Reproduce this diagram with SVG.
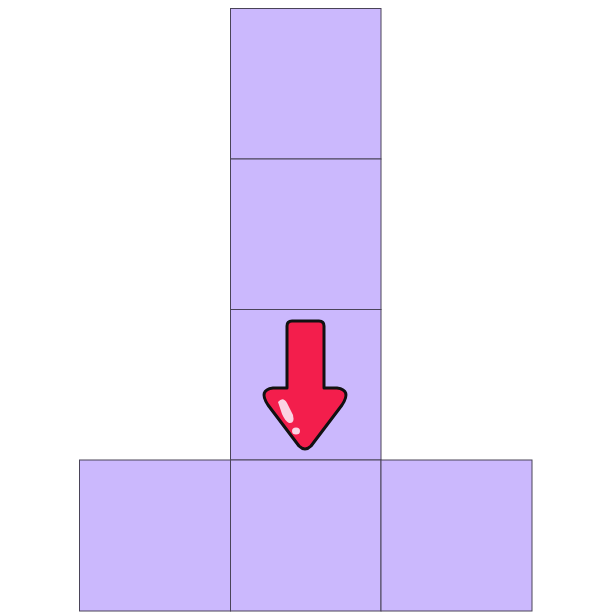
<svg xmlns="http://www.w3.org/2000/svg" width="612" height="612" viewBox="0 0 612 612">
<style>
.sq{fill:#cbb8fd;stroke:#4a4458;stroke-width:1}
</style>
<rect width="612" height="612" fill="#fff"/>
<g id="squares">
<rect id="s1" class="sq" x="230.5" y="8.5" width="150.5" height="150.5"/>
<rect id="s2" class="sq" x="230.5" y="159" width="150.5" height="150.5"/>
<rect id="s3" class="sq" x="230.5" y="309.5" width="150.5" height="150.5"/>
<rect id="s4" class="sq" x="79.5" y="460" width="151" height="151"/>
<rect id="s5" class="sq" x="230.5" y="460" width="150.5" height="151"/>
<rect id="s6" class="sq" x="381" y="460" width="151" height="151"/>
</g>
<g id="arrow">
<path d="M292,321 H319 Q324,321 324,326 V388 H337 Q352,390 342,405 L311,446 Q305,452 299,446 L268,405 Q258,390 273,388 H287 V326 Q287,321 292,321 Z" fill="#f31e4c" stroke="#111" stroke-width="3" stroke-linejoin="round"/>
<path d="M278,402 Q283,396 287,403 L293,415 Q295,424 289,423 Q285,421 282,414 Z" fill="#fbd3e3"/>
<ellipse cx="296" cy="431" rx="4" ry="3.5" fill="#fbd3e3"/>
</g>
</svg>
